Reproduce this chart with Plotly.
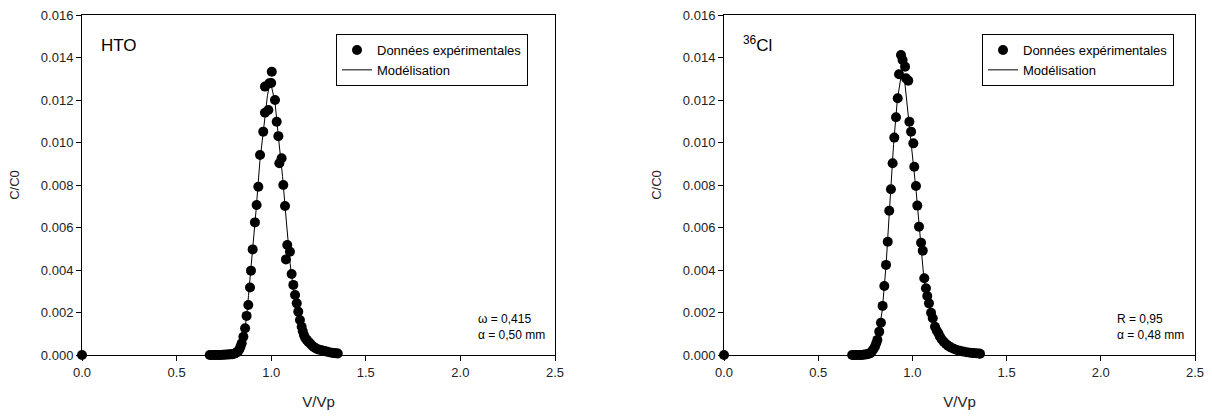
import plotly.graph_objects as go

# ---------------- HTO (left) ----------------
hto_x = [0.0, 0.675, 0.685, 0.695, 0.705, 0.715, 0.725, 0.735, 0.745, 0.755, 0.765, 0.775, 0.785, 0.795, 0.805,
         0.812, 0.818, 0.825, 0.832, 0.838, 0.844, 0.853, 0.862, 0.870, 0.879, 0.888, 0.893, 0.902, 0.914,
         0.923, 0.932, 0.941, 0.958, 0.967, 0.985, 0.967, 0.990, 1.000, 1.003, 1.020, 1.029, 1.038, 1.043,
         1.055, 1.064, 1.073, 1.078, 1.085, 1.099, 1.108, 1.117, 1.126, 1.135, 1.143, 1.152, 1.161, 1.167,
         1.173, 1.180, 1.188, 1.196, 1.205, 1.214, 1.223, 1.233, 1.244, 1.255, 1.267, 1.280, 1.293, 1.306,
         1.320, 1.332, 1.343, 1.352]
hto_y = [0.0, 0.0, 0.0, 0.0, 0.0, 0.0, 0.0, 0.0, 0.00001, 0.00001, 0.00002, 0.00002, 0.00003, 0.00004, 0.00006,
         0.0001, 0.00012, 0.00018, 0.00027, 0.0004, 0.00055, 0.00086, 0.00126, 0.00184, 0.00235, 0.00318, 0.00397,
         0.00497, 0.00624, 0.00706, 0.00792, 0.00941, 0.01051, 0.0114, 0.01153, 0.01263, 0.01279, 0.0128, 0.01333,
         0.0120, 0.01098, 0.0103, 0.00902, 0.00926, 0.0080, 0.00701, 0.0045, 0.00518, 0.00486, 0.00381, 0.0033,
         0.00282, 0.00243, 0.00204, 0.00165, 0.00133, 0.00112, 0.00094, 0.0008, 0.00071, 0.00062, 0.00055,
         0.00046, 0.00039, 0.00033, 0.00027, 0.00025, 0.00022, 0.00019, 0.00016, 0.00013, 0.00011, 0.00009,
         0.00008, 0.00007]
hto_model_x = [0.68, 0.78, 0.80, 0.82, 0.84, 0.86, 0.87, 0.88, 0.90, 0.92, 0.94, 0.96, 0.98, 0.995, 1.02, 1.04,
               1.06, 1.08, 1.10, 1.12, 1.14, 1.16, 1.18, 1.20, 1.22, 1.24, 1.26, 1.28, 1.30, 1.35]
hto_model_y = [0.0, 0.0, 0.00003, 0.00015, 0.00045, 0.0012, 0.0018, 0.0028, 0.0047, 0.0068, 0.0091, 0.0108,
               0.0122, 0.0129, 0.0119, 0.0101, 0.0084, 0.0063, 0.0043, 0.0029, 0.0019, 0.0012, 0.0007, 0.0004,
               0.00022, 0.00012, 0.00006, 0.00002, 0.0, 0.0]

# ---------------- 36Cl (right) ----------------
cl_x = [0.0, 0.680, 0.690, 0.700, 0.710, 0.720, 0.730, 0.740, 0.750, 0.760, 0.770, 0.778, 0.784, 0.792, 0.801,
        0.808, 0.814, 0.824, 0.833, 0.842, 0.851, 0.860, 0.869, 0.877, 0.886, 0.895, 0.904, 0.913, 0.922, 0.929,
        0.9395, 0.948, 0.961, 0.966, 0.978, 0.984, 0.993, 1.005, 1.010, 1.019, 1.026, 1.035, 1.046, 1.055,
        1.063, 1.072, 1.079, 1.088, 1.099, 1.108, 1.120, 1.129, 1.138, 1.146, 1.155, 1.166, 1.178, 1.190,
        1.203, 1.219, 1.235, 1.252, 1.270, 1.288, 1.306, 1.322, 1.338, 1.352, 1.359]
cl_y = [0.0, 0.0, 0.0, 0.0, 0.0, 0.0, 0.0, 0.00001, 0.00002, 0.00004, 0.00006, 0.0001, 0.00016, 0.00026, 0.00039,
        0.00055, 0.00071, 0.0011, 0.00152, 0.00231, 0.00325, 0.00424, 0.00533, 0.00679, 0.0078, 0.00902, 0.01023,
        0.01119, 0.01208, 0.01321, 0.01412, 0.01388, 0.01357, 0.01302, 0.01291, 0.01098, 0.01051, 0.00996,
        0.00886, 0.00795, 0.00703, 0.00604, 0.00528, 0.00491, 0.00361, 0.00314, 0.00278, 0.00243, 0.00199,
        0.00173, 0.00133, 0.00115, 0.00102, 0.00087, 0.00074, 0.00062, 0.00052, 0.00043, 0.00036, 0.0003,
        0.00024, 0.0002, 0.00016, 0.00013, 0.00011, 0.00009, 0.00008, 0.00007, 0.00006]
cl_model_x = [0.68, 0.74, 0.76, 0.78, 0.80, 0.82, 0.84, 0.86, 0.88, 0.90, 0.92, 0.943, 0.96, 0.98, 1.00, 1.02,
              1.04, 1.06, 1.08, 1.10, 1.12, 1.14, 1.16, 1.18, 1.20, 1.22, 1.24, 1.26, 1.28, 1.30, 1.35]
cl_model_y = [0.0, 0.0, 0.00003, 0.00012, 0.0004, 0.0010, 0.0021, 0.0042, 0.0071, 0.0099, 0.0120, 0.0133,
              0.0128, 0.0112, 0.0096, 0.0077, 0.0057, 0.0037, 0.0027, 0.0019, 0.0012, 0.0007, 0.00045, 0.00028,
              0.00017, 0.0001, 0.00006, 0.00003, 0.00001, 0.0, 0.0]

x_ticks = [0.0, 0.5, 1.0, 1.5, 2.0, 2.5]
y_ticks = [0.000, 0.002, 0.004, 0.006, 0.008, 0.010, 0.012, 0.014, 0.016]

FONT = "Arial, Liberation Sans, sans-serif"
W, H = 1212, 416
ML, MR, MT, MB = 82, 17, 15, 61
PW = W - ML - MR
PH = H - MT - MB
dom_left = [0.0, (555 - ML) / PW]
dom_right = [(724 - ML) / PW, 1.0]

fig = go.Figure()

mk = dict(color="black", size=10)
ln = dict(color="black", width=1)

fig.add_trace(go.Scatter(x=hto_x, y=hto_y, mode="markers", marker=mk, name="Données expérimentales",
                         xaxis="x", yaxis="y", legend="legend", cliponaxis=False))
fig.add_trace(go.Scatter(x=hto_model_x, y=hto_model_y, mode="lines", line=ln, name="Modélisation",
                         xaxis="x", yaxis="y", legend="legend"))
fig.add_trace(go.Scatter(x=cl_x, y=cl_y, mode="markers", marker=mk, name="Données expérimentales",
                         xaxis="x2", yaxis="y2", legend="legend2", cliponaxis=False))
fig.add_trace(go.Scatter(x=cl_model_x, y=cl_model_y, mode="lines", line=ln, name="Modélisation",
                         xaxis="x2", yaxis="y2", legend="legend2"))

def xax(domain, anchor):
    return dict(domain=domain, anchor=anchor, range=[0, 2.5], tickvals=x_ticks, tickformat=".1f",
                showline=True, linecolor="black", linewidth=1, mirror=True, ticks="outside",
                ticklen=5, tickcolor="black", showgrid=False, zeroline=False, automargin=False,
                title=dict(text="V/Vp", standoff=17, font=dict(size=15, color="#222")),
                tickfont=dict(size=13, color="#222"))

def yax(anchor):
    return dict(domain=[0, 1], anchor=anchor, range=[0, 0.016], tickvals=y_ticks, tickformat=".3f",
                showline=True, linecolor="black", linewidth=1, mirror=True, ticks="outside",
                ticklen=5, tickcolor="black", showgrid=False, zeroline=False, automargin=False,
                title=dict(text="C/C0", standoff=18, font=dict(size=13, color="#222")),
                tickfont=dict(size=13, color="#222"))

leg_common = dict(bordercolor="black", borderwidth=1, bgcolor="white", xanchor="left", yanchor="top",
                  font=dict(family=FONT, size=13, color="black"), traceorder="normal", tracegroupgap=0)

fig.update_layout(
    width=W, height=H, margin=dict(l=ML, r=MR, t=MT, b=MB, autoexpand=False),
    paper_bgcolor="white", plot_bgcolor="white",
    font=dict(family=FONT, size=12, color="#222"),
    xaxis=xax(dom_left, "y"), yaxis=yax("x"),
    xaxis2=xax(dom_right, "y2"), yaxis2=yax("x2"),
    legend=dict(x=(336 - ML) / PW, y=(H - MB - 34) / PH, **leg_common),
    legend2=dict(x=(982 - ML) / PW, y=(H - MB - 34) / PH, **leg_common),
    annotations=[
        dict(text="HTO", xref="x domain", yref="y domain", x=(99 - ML) / (555 - ML), y=(H - MB - 45) / PH,
             xanchor="left", yanchor="middle", showarrow=False, font=dict(size=17, color="black")),
        dict(text="<sup>36</sup>Cl", xref="x2 domain", yref="y2 domain", x=(741 - 724) / (1195 - 724),
             y=(H - MB - 44) / PH, xanchor="left", yanchor="middle", showarrow=False,
             font=dict(size=17, color="black")),
        dict(text="ω = 0,415<br>α = 0,50 mm", xref="x domain", yref="y domain", x=(476 - ML) / (555 - ML),
             y=(H - MB - 327) / PH, xanchor="left", yanchor="middle", align="left", showarrow=False,
             font=dict(size=12, color="black")),
        dict(text="R = 0,95<br>α = 0,48 mm", xref="x2 domain", yref="y2 domain", x=(1115 - 724) / (1195 - 724),
             y=(H - MB - 327) / PH, xanchor="left", yanchor="middle", align="left", showarrow=False,
             font=dict(size=12, color="black")),
    ],
)

fig.write_html("out.html", config={"displayModeBar": False},
               post_script="document.body.style.margin='0';document.body.style.overflow='hidden';")
